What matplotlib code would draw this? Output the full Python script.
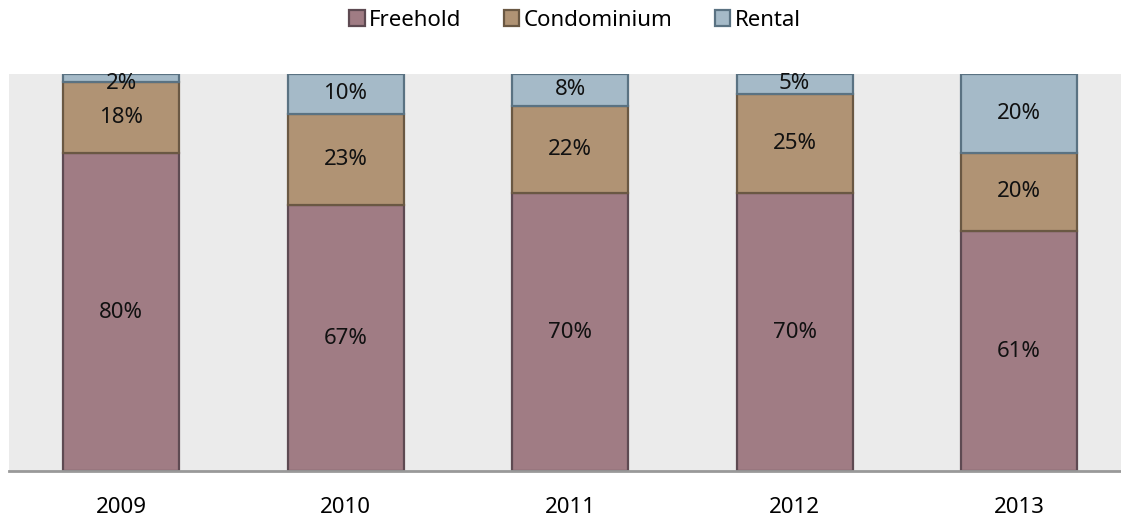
import matplotlib
matplotlib.use("Agg")
import matplotlib.pyplot as plt
import numpy as np

years = ["2009", "2010", "2011", "2012", "2013"]
series_names = ["Freehold", "Condominium", "Rental"]
freehold = [80, 67, 70, 70, 61]
condominium = [18, 23, 22, 25, 20]
rental = [2, 10, 8, 5, 20]

fills = ["#A07C84", "#B09374", "#A5BAC8"]
edges = ["#5E4A52", "#6A5843", "#5A7282"]

plt.rcParams['font.family'] = ['Noto Sans', 'DejaVu Sans']
FS = 16

W, H = 1121, 519
fig = plt.figure(figsize=(W / 100, H / 100), dpi=100)
ax = fig.add_axes([9 / W, (H - 471) / H, (1121 - 9) / W, (471 - 74) / H])
ax.set_facecolor("#EBEBEB")

data = np.array([freehold, condominium, rental], dtype=float)
shares = data / data.sum(axis=0) * 100
x = np.arange(len(years))
bottom = np.zeros(len(years))
handles = []
for i, name in enumerate(series_names):
    b = ax.bar(x, shares[i], 0.517, bottom=bottom, color=fills[i],
               edgecolor=edges[i], linewidth=1.6, label=name, zorder=2)
    handles.append(b)
    for j in range(len(years)):
        yc = bottom[j] + shares[i][j] / 2
        if shares[i][j] < 4:
            yc = bottom[j] - 0.5
        ax.text(x[j], yc, f"{int(data[i][j])}%",
                ha="center", va="center", fontsize=FS, color="#111111", zorder=3)
    bottom += shares[i]

ax.set_xlim(-0.499, 4.454)
ax.set_ylim(0, 100)
ax.set_yticks([])
ax.set_xticks(x)
ax.set_xticklabels(years, fontsize=FS)
ax.tick_params(axis="x", length=0, pad=19)
for s in ["top", "left", "right"]:
    ax.spines[s].set_visible(False)
ax.spines["bottom"].set_color("#999999")
ax.spines["bottom"].set_linewidth(2)

fig.legend(handles=handles, labels=series_names, loc="center",
           bbox_to_anchor=(575 / W, 1 - 20 / H), ncol=3, frameon=False,
           fontsize=FS, handlelength=0.7, handleheight=0.7,
           handletextpad=0.2, columnspacing=1.9)

fig.savefig("out.png", dpi=100)
